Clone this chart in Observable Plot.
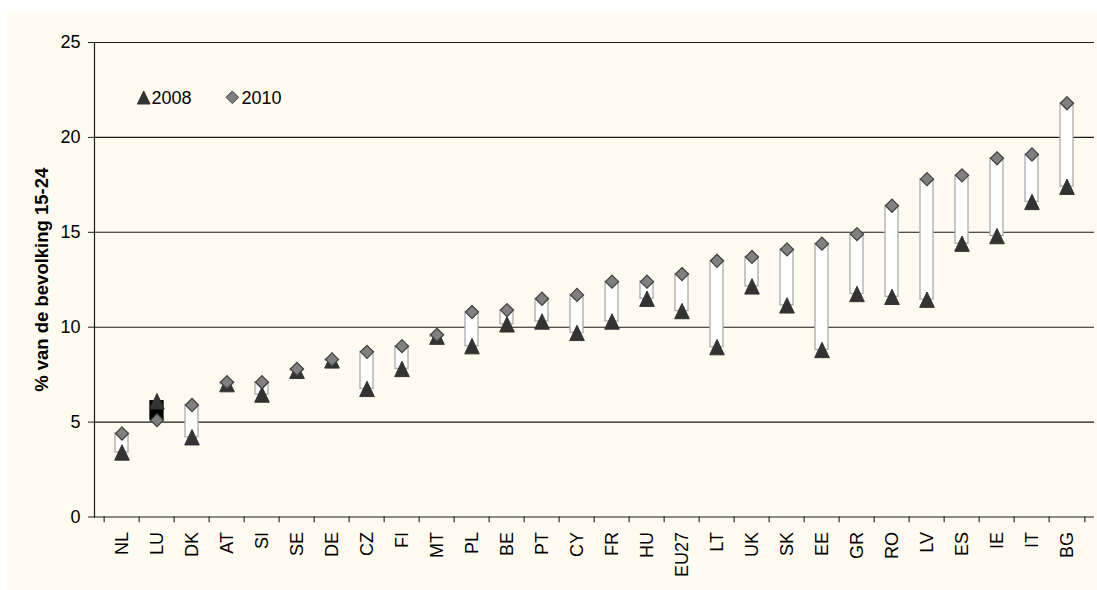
<!DOCTYPE html>
<html>
<head>
<meta charset="utf-8">
<script src="https://cdn.jsdelivr.net/npm/d3@7"></script>
<script src="https://cdn.jsdelivr.net/npm/@observablehq/plot@0.6"></script>
<style>
  body { margin: 0; background: #ffffff; }
  #wrap { position: relative; width: 1097px; height: 590px; overflow: hidden; }
  #bg { position: absolute; left: 8px; top: 12px; right: 0; bottom: 0; background: #FFFBF0; }
  #chart { position: absolute; left: 0; top: 0; }
  #legend { position: absolute; left: 0; top: 0; pointer-events: none; }
</style>
</head>
<body>
<div id="wrap">
  <div id="bg"></div>
  <div id="chart"></div>
  <svg id="legend" width="1097" height="590" font-family="Liberation Sans, Arial, sans-serif" font-size="18">
    <path d="M143.7,91 L150,104 L137.4,104 Z" fill="#333333" stroke="#333333" stroke-width="1"/>
    <text x="151.5" y="103.5" fill="#000">2008</text>
    <path d="M232.3,91 L238.6,97.3 L232.3,103.6 L226,97.3 Z" fill="#808080" stroke="#404040" stroke-width="1"/>
    <text x="241.5" y="103.5" fill="#000">2010</text>
  </svg>
</div>
<script>
const countries = ["NL","LU","DK","AT","SI","SE","DE","CZ","FI","MT","PL","BE","PT","CY","FR","HU","EU27","LT","UK","SK","EE","GR","RO","LV","ES","IE","IT","BG"];
const v2008 = [3.4, 6.1, 4.2, 7.0, 6.45, 7.7, 8.25, 6.75, 7.8, 9.5, 9.0, 10.15, 10.3, 9.7, 10.3, 11.5, 10.85, 8.95, 12.15, 11.15, 8.8, 11.75, 11.6, 11.45, 14.4, 14.8, 16.6, 17.4];
const v2010 = [4.4, 5.1, 5.9, 7.1, 7.1, 7.8, 8.3, 8.7, 9.0, 9.6, 10.8, 10.9, 11.5, 11.7, 12.4, 12.4, 12.8, 13.5, 13.7, 14.1, 14.4, 14.9, 16.4, 17.8, 18.0, 18.9, 19.1, 21.8];
const yTicks = [0, 5, 10, 15, 20, 25];
const yLabel = "% van de bevolking 15-24";

const data = countries.map((c, i) => ({country: c, a: v2008[i], b: v2010[i], down: v2010[i] < v2008[i]}));

const W = 1097, H = 590, ML = 94, MR = 3, MT = 42, MB = 73.5;
const half = (W - ML - MR) / countries.length / 2;

const triangle = {
  draw(ctx, size) {
    const r = Math.sqrt(size / Math.PI);
    const w = r * 1.22, h = r * 1.28;
    ctx.moveTo(0, -h);
    ctx.lineTo(w, h);
    ctx.lineTo(-w, h);
    ctx.closePath();
  }
};

const chart = Plot.plot({
  width: W,
  height: H,
  marginLeft: ML,
  marginRight: MR,
  marginTop: MT,
  marginBottom: MB,
  style: {background: "transparent", fontFamily: "Liberation Sans, Arial, sans-serif", fontSize: "18px", color: "#000"},
  x: {type: "band", domain: countries, padding: 0},
  y: {domain: [0, 25]},
  marks: [
    Plot.ruleY(yTicks.filter(d => d > 0), {stroke: "#1a1a1a", strokeWidth: 1.1}),
    Plot.ruleY([0], {stroke: "#1a1a1a", strokeWidth: 1.2}),
    Plot.frame({anchor: "left", stroke: "#1a1a1a", strokeWidth: 1.2}),
    Plot.ruleX(countries, {x: d => d, y1: 0, y2: -0.3, dx: -half, stroke: "#1a1a1a", strokeWidth: 1.1, clip: false}),
    Plot.ruleX(countries.slice(-1), {x: d => d, y1: 0, y2: -0.3, dx: half, stroke: "#1a1a1a", strokeWidth: 1.1, clip: false}),
    Plot.axisY({ticks: yTicks, tickSize: 6, tickPadding: 8, label: null, tickFormat: d => String(d), stroke: "#1a1a1a"}),
    Plot.axisX({tickSize: 0, tickPadding: 15, tickRotate: -90, label: null}),
    Plot.barY(data, {x: "country", y1: "a", y2: "b", insetLeft: 11, insetRight: 11,
      fill: d => d.down ? "#000000" : "#ffffff", stroke: d => d.down ? "#000000" : "#ababab", strokeWidth: 1.3}),
    Plot.dot(data, {x: "country", y: "a", symbol: triangle, r: 6, fill: "#333333", stroke: "#333333", strokeWidth: 1}),
    Plot.dot(data, {x: "country", y: "b", symbol: "diamond2", r: 5.9, fill: "#808080", stroke: "#404040", strokeWidth: 1.2}),
    Plot.text([yLabel], {frameAnchor: "left", textAnchor: "middle", dx: -52, rotate: -90, fontWeight: "bold", fontSize: 18.5, fill: "#000"})
  ]
});
document.getElementById("chart").appendChild(chart);
</script>
</body>
</html>
